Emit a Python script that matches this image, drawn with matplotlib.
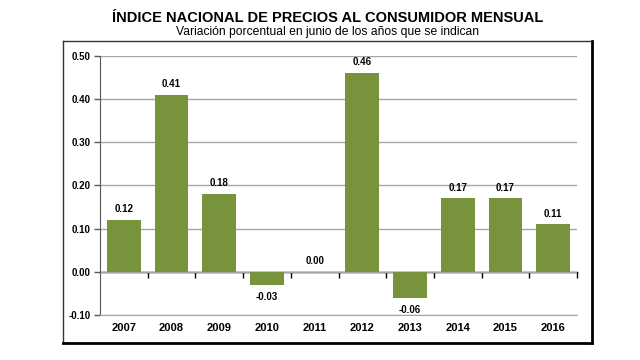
import matplotlib.pyplot as plt
from matplotlib.lines import Line2D

plt.rcParams['font.family'] = ['Liberation Sans', 'DejaVu Sans']

years = ['2007', '2008', '2009', '2010', '2011', '2012', '2013', '2014', '2015', '2016']
values = [0.12, 0.41, 0.18, -0.03, 0.00, 0.46, -0.06, 0.17, 0.17, 0.11]
yticks = [-0.10, 0.00, 0.10, 0.20, 0.30, 0.40, 0.50]

green = '#77933C'

fig = plt.figure(figsize=(6.4, 3.6), dpi=100)
ax = fig.add_axes([100/640, 1 - 315/360, 477/640, (315 - 55.7)/360])

x = list(range(len(years)))
ax.bar(x, values, width=0.71, color=green, zorder=3)

ax.set_xlim(-0.5, len(years) - 0.5)
ax.set_ylim(-0.10, 0.50)
ax.set_yticks(yticks)
ax.set_yticklabels(['%.2f' % v for v in yticks], fontsize=7, fontweight='bold')
ax.yaxis.grid(True, color='#A6A6A6', linewidth=1, zorder=0)
ax.tick_params(axis='y', length=4, width=1, color='#595959', pad=3)

ax.set_xticks(x)
ax.set_xticklabels(years, fontsize=8, fontweight='bold')
ax.tick_params(axis='x', length=0, pad=6)

for s in ['top', 'right']:
    ax.spines[s].set_visible(False)
ax.spines['bottom'].set_color('#A6A6A6')
ax.spines['left'].set_color('#595959')

# zero line with tick marks between categories
zero = ax.secondary_xaxis(0.1 / 0.6)
zero.set_xticks([i + 0.5 for i in x])
zero.set_xticklabels([])
zero.tick_params(length=4, width=1, color='black', direction='out')
zero.spines['bottom'].set_color('black')
zero.spines['bottom'].set_linewidth(1)

for xi, v in zip(x, values):
    if v < 0:
        ax.annotate('%.2f' % v, (xi, v), xytext=(0, -5), textcoords='offset points',
                    ha='center', va='top', fontsize=7, fontweight='bold')
    else:
        ax.annotate('%.2f' % v, (xi, v), xytext=(0, 4), textcoords='offset points',
                    ha='center', va='bottom', fontsize=7, fontweight='bold')

cx = 327.5 / 640
fig.text(cx, 1 - 18/360, 'ÍNDICE NACIONAL DE PRECIOS AL CONSUMIDOR MENSUAL',
         ha='center', va='center', fontsize=10.5, fontweight='bold')
fig.text(cx, 1 - 32.5/360, 'Variación porcentual en junio de los años que se indican',
         ha='center', va='center', fontsize=8.7)

# frame around chart
l, r, t, b = 63/640, 592/640, 1 - 41/360, 1 - 343/360
fig.lines.append(Line2D([l, r], [t, t], transform=fig.transFigure, color='#333333', lw=1))
fig.lines.append(Line2D([l, l], [t, b], transform=fig.transFigure, color='#333333', lw=1))
fig.lines.append(Line2D([r, r], [t, b], transform=fig.transFigure, color='black', lw=2))
fig.lines.append(Line2D([l, r], [b, b], transform=fig.transFigure, color='black', lw=2))

fig.savefig('out.png', dpi=100)
